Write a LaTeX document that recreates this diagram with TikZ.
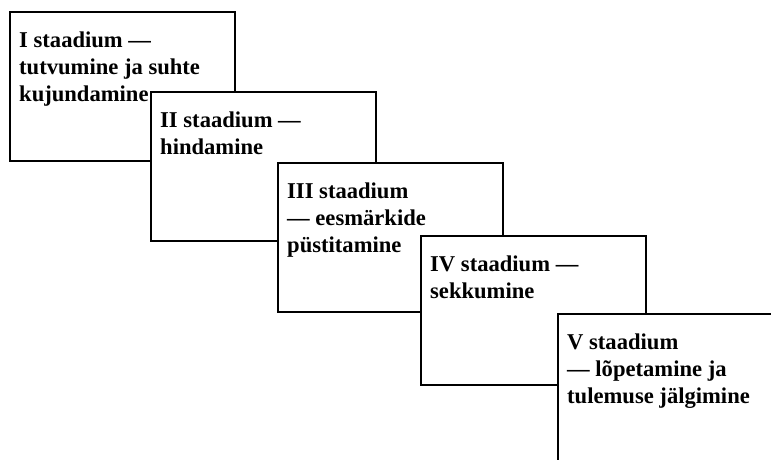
\documentclass[tikz,border=0pt]{standalone}
\usepackage{fontspec}
\setmainfont{Liberation Serif}
\usetikzlibrary{positioning}
\begin{document}
\begin{tikzpicture}[x=1pt,y=1pt]
        \tikzstyle{stage}=[rectangle,draw=black,line width=2.4pt,fill=white,minimum width=225pt,minimum height=149pt,anchor=north west,inner sep=0pt,outer sep=0pt]
        \tikzstyle{stagetext}=[anchor=north west,inner sep=0pt,align=left,font=\fontsize{22.6}{27}\selectfont\bfseries]
        \useasboundingbox (0,0) rectangle (771,459);
        \clip (0,-20) rectangle (790,459);
        \node [stage] (s1) at (10,447) {};
        \node [stagetext,below right=20pt and 9pt of s1.north west] (t1) {I staadium —\\tutvumine ja suhte\\kujundamine};
        \node [stage] (s2) at (151,367) {};
        \node [stagetext,below right=20pt and 9pt of s2.north west] (t2) {II staadium —\\hindamine};
        \node [stage] (s3) at (278,296) {};
        \node [stagetext,below right=20pt and 9pt of s3.north west] (t3) {III staadium\\— eesmärkide\\püstitamine};
        \node [stage] (s4) at (421,223) {};
        \node [stagetext,below right=20pt and 9pt of s4.north west] (t4) {IV staadium —\\sekkumine};
        \node [stage,minimum width=260pt,minimum height=180pt] (s5) at (558,145) {};
        \node [stagetext,below right=20pt and 9pt of s5.north west] (t5) {V staadium\\— lõpetamine ja\\tulemuse jälgimine};
\end{tikzpicture}
\end{document}
